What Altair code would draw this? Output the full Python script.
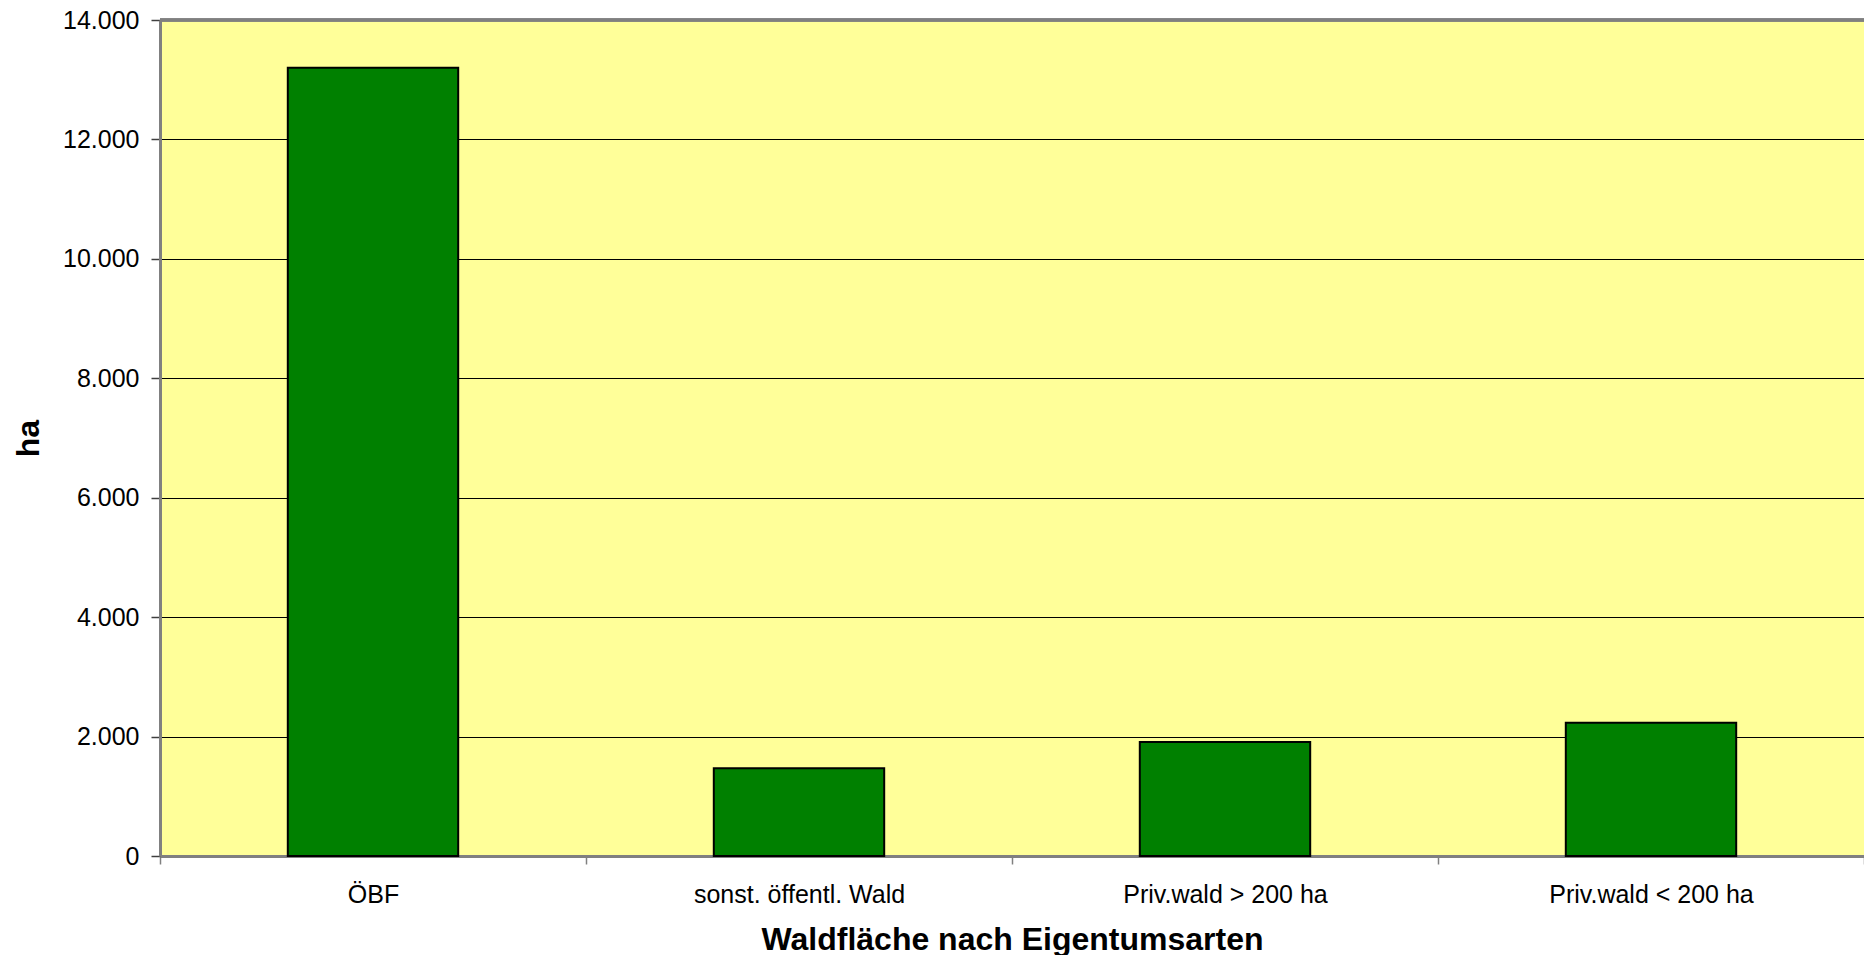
import altair as alt
import pandas as pd

categories = ["ÖBF", "sonst. öffentl. Wald", "Priv.wald > 200 ha", "Priv.wald < 200 ha"]
values = [13200, 1470, 1910, 2230]
y_ticks = [0, 2000, 4000, 6000, 8000, 10000, 12000, 14000]
y_max = 14000

W = 1704
H = 836

df = pd.DataFrame({"cat": categories, "ha": values})

bars = alt.Chart(df).mark_bar(
    fill="#008000", stroke="#000000", strokeWidth=2,
    width=alt.RelativeBandSize(0.4),
).encode(
    x=alt.X(
        "cat:N",
        sort=categories,
        scale=alt.Scale(paddingInner=0, paddingOuter=0),
        axis=alt.Axis(
            title="Waldfläche nach Eigentumsarten",
            tickBand="extent",
            labelAngle=0,
            grid=False,
            domainColor="#808080",
            domainWidth=3,
            tickColor="#808080",
            tickSize=8,
            tickWidth=1.5,
            labelPadding=38,
            labelBaseline="alphabetic",
            labelFontSize=25,
            labelFont="Liberation Sans",
            labelColor="#000000",
            labelLimit=0,
            labelOverlap=False,
            titleFontSize=32,
            titleFont="Liberation Sans",
            titleFontWeight="bold",
            titleColor="#000000",
            titleBaseline="alphabetic",
            titleX=W / 2,
            titleY=93,
        ),
    ),
    y=alt.Y(
        "ha:Q",
        scale=alt.Scale(domain=[0, y_max], nice=False),
        axis=alt.Axis(
            title="ha",
            values=y_ticks,
            labelExpr="replace(format(datum.value, ',d'), ',', '.')",
            grid=True,
            gridColor="#000000",
            gridWidth=1,
            domainColor="#808080",
            domainWidth=3,
            tickColor="#404040",
            tickSize=9,
            tickWidth=1.5,
            labelPadding=12,
            labelFontSize=25,
            labelFont="Liberation Sans",
            labelColor="#000000",
            titleFontSize=32,
            titleFont="Liberation Sans",
            titleFontWeight="bold",
            titleColor="#000000",
            titleAngle=270,
            titleAlign="center",
            titleBaseline="alphabetic",
            titleX=-122,
            titleY=H / 2,
        ),
    ),
)

top_rule = alt.Chart(df).mark_rule(color="#808080", strokeWidth=3).encode(
    y=alt.datum(y_max)
)

chart = alt.layer(bars, top_rule).properties(
    width=W,
    height=H,
    autosize=alt.AutoSizeParams(type="none"),
    padding={"left": 152, "top": 12, "right": 0, "bottom": 99},
).configure_view(fill="#FFFF99", stroke="transparent")

chart.save("out.html", embed_options={"renderer": "svg", "actions": False})
